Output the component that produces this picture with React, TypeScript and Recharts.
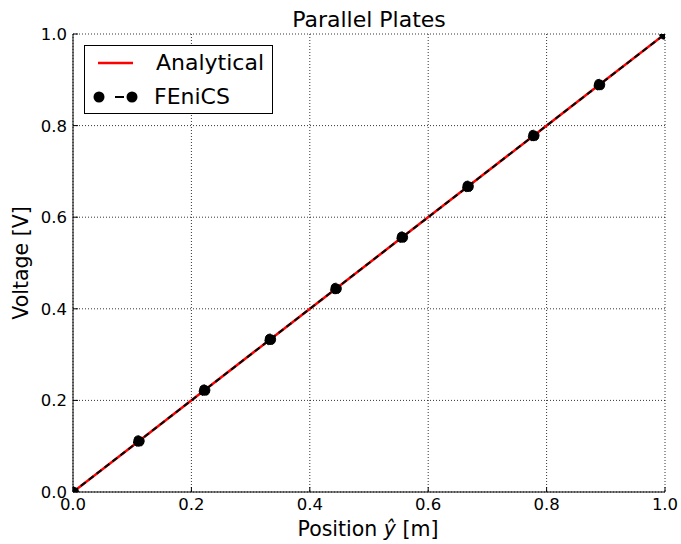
import { LineChart, Line, XAxis, YAxis, CartesianGrid } from 'recharts'

// position along the gap (normalised) and the voltage there
const positions = [0, 0.111, 0.222, 0.333, 0.444, 0.556, 0.667, 0.778, 0.889, 1.0]
const analytical = [0, 0.111, 0.222, 0.333, 0.444, 0.556, 0.667, 0.778, 0.889, 1.0]
const fenics = [0, 0.111, 0.222, 0.333, 0.444, 0.556, 0.667, 0.778, 0.889, 1.0]

const xTicks = [0, 0.2, 0.4, 0.6, 0.8, 1.0]
const yTicks = [0, 0.2, 0.4, 0.6, 0.8, 1.0]

const FONT = '"DejaVu Sans", sans-serif'
const TICK_LEN = 5

const data = positions.map((p, i) => ({
    pos: p,
    analytical: analytical[i],
    fenics: fenics[i],
}))

const BottomTick = ({ x, y, payload }: any) => (
    <g>
        <line x1={x} y1={y} x2={x} y2={y - TICK_LEN} stroke="#000" />
        <text x={x} y={y + 18} textAnchor="middle" fontFamily={FONT} fontSize={16.5} fill="#000">
            {Number(payload.value).toFixed(1)}
        </text>
    </g>
)

const TopTick = ({ x, y }: any) => (
    <line x1={x} y1={y} x2={x} y2={y + TICK_LEN} stroke="#000" />
)

const LeftTick = ({ x, y, payload }: any) => (
    <g>
        <line x1={x} y1={y} x2={x + TICK_LEN} y2={y} stroke="#000" />
        <text x={x - 6} y={y + 6} textAnchor="end" fontFamily={FONT} fontSize={16.5} fill="#000">
            {Number(payload.value).toFixed(1)}
        </text>
    </g>
)

const RightTick = ({ x, y }: any) => (
    <line x1={x} y1={y} x2={x - TICK_LEN} y2={y} stroke="#000" />
)

const XLabel = ({ viewBox }: any) => {
    const cx = viewBox.x + viewBox.width / 2
    return (
        <text x={cx - 1} y={viewBox.y + 44} textAnchor="middle" fontFamily={FONT} fontSize={20.5} fill="#000">
            Position <tspan fontStyle="italic">ŷ</tspan> [m]
        </text>
    )
}

const YLabel = ({ viewBox }: any) => {
    const cy = viewBox.y + viewBox.height / 2
    return (
        <text x={28} y={cy} transform={`rotate(-90, 28, ${cy})`} textAnchor="middle" fontFamily={FONT} fontSize={20.5} fill="#000">
            Voltage [V]
        </text>
    )
}

export default function App() {
    return (
        <div style={{ position: 'absolute', left: 0, top: 0, width: 681, height: 544, background: '#fff' }}>
            <LineChart width={681} height={544} data={data} margin={{ top: 34, right: 16, left: 0, bottom: 0 }}>
                <CartesianGrid stroke="#000" strokeWidth={0.8} strokeDasharray="1 2" />
                <XAxis
                    dataKey="pos"
                    type="number"
                    domain={[0, 1]}
                    allowDataOverflow
                    ticks={xTicks}
                    interval={0}
                    height={52}
                    tickSize={0}
                    tickMargin={0}
                    tickLine={false}
                    axisLine={{ stroke: '#000' }}
                    tick={<BottomTick />}
                    label={<XLabel />}
                />
                <XAxis
                    xAxisId="top"
                    orientation="top"
                    dataKey="pos"
                    type="number"
                    domain={[0, 1]}
                    allowDataOverflow
                    ticks={xTicks}
                    interval={0}
                    height={0}
                    tickSize={0}
                    tickMargin={0}
                    tickLine={false}
                    axisLine={{ stroke: '#000' }}
                    tick={<TopTick />}
                />
                <YAxis
                    type="number"
                    domain={[0, 1]}
                    allowDataOverflow
                    ticks={yTicks}
                    interval={0}
                    width={73}
                    tickSize={0}
                    tickMargin={0}
                    tickLine={false}
                    axisLine={{ stroke: '#000' }}
                    tick={<LeftTick />}
                    label={<YLabel />}
                />
                <YAxis
                    yAxisId="right"
                    orientation="right"
                    type="number"
                    domain={[0, 1]}
                    allowDataOverflow
                    ticks={yTicks}
                    interval={0}
                    width={0}
                    tickSize={0}
                    tickMargin={0}
                    tickLine={false}
                    axisLine={{ stroke: '#000' }}
                    tick={<RightTick />}
                />
                <Line
                    dataKey="analytical"
                    type="linear"
                    stroke="#ff0000"
                    strokeWidth={2.5}
                    dot={false}
                    isAnimationActive={false}
                />
                <Line
                    dataKey="fenics"
                    type="linear"
                    stroke="#000"
                    strokeWidth={2}
                    strokeDasharray="6 4"
                    dot={{ r: 5.5, fill: '#000', stroke: '#000', strokeWidth: 1 }}
                    isAnimationActive={false}
                />
            </LineChart>
            <svg width={681} height={544} style={{ position: 'absolute', left: 0, top: 0, pointerEvents: 'none' }}>
                <text x={369} y={27} textAnchor="middle" fontFamily={FONT} fontSize={22} fill="#000">
                    Parallel Plates
                </text>
                <rect x={84.5} y={45.5} width={188} height={68} fill="#fff" stroke="#000" />
                <line x1={98} y1={63} x2={133} y2={63} stroke="#ff0000" strokeWidth={2.5} />
                <text x={156} y={70} fontFamily={FONT} fontSize={22} fill="#000">Analytical</text>
                <line x1={115} y1={97} x2={124} y2={97} stroke="#000" strokeWidth={2} />
                <circle cx={99} cy={97} r={5.5} fill="#000" />
                <circle cx={132} cy={97} r={5.5} fill="#000" />
                <text x={154} y={104} fontFamily={FONT} fontSize={22} fill="#000">FEniCS</text>
            </svg>
        </div>
    )
}
